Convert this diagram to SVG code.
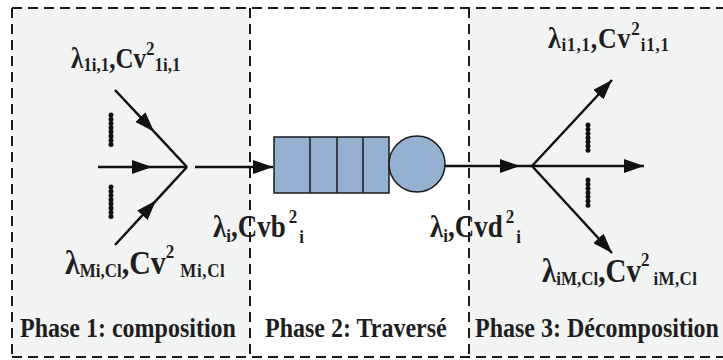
<svg xmlns="http://www.w3.org/2000/svg" width="723" height="360" viewBox="0 0 723 360">
<defs>
<style>
.frame{fill:none;stroke:#1a1a1a;stroke-width:2;stroke-dasharray:10 6}
.ln{fill:none;stroke:#111;stroke-width:2.5}
.dots{stroke:#111;stroke-width:5;stroke-linecap:round;stroke-dasharray:0.01 4.2}
.t{font-family:'Liberation Serif','Times New Roman',Times,serif;font-weight:700;fill:#1e1e1e}
.ph{font-size:24px}
.sb{font-size:17px}
.q{fill:#95b0d0;stroke:#1a1a1a;stroke-width:1.5}
</style>
<marker id="ah" viewBox="0 0 20 14" refX="20" refY="7" markerWidth="20" markerHeight="14" markerUnits="userSpaceOnUse" orient="auto">
<path d="M0,0 L20,7 L0,14 z" fill="#111"/>
</marker>
</defs>
<rect width="723" height="360" fill="#fff"/>
<g id="phase1">
<rect x="12" y="8" width="238" height="349" fill="#f2f3f3"/>
<text class="t ph" x="20" y="337" transform="translate(0,-33.7) scale(1,1.1)">Phase 1: composition</text>
</g>
<g id="phase2">
<rect x="250" y="8" width="219" height="349" fill="#fff"/>
<text class="t ph" x="265" y="337" transform="translate(0,-33.7) scale(1,1.1)">Phase 2: Traversé</text>
</g>
<g id="phase3">
<rect x="469" y="8" width="260" height="349" fill="#f2f3f3"/>
<text class="t ph" x="475" y="337" transform="translate(0,-33.7) scale(1,1.1)">Phase 3: Décomposition</text>
</g>
<g id="frame">
<path class="frame" d="M12,8 H730 M12,357 H730 M12,8 V357 M250,8 V357 M469,8 V357"/>
</g>
<g id="queue">
<rect class="q" x="274" y="137" width="115" height="56"/>
<path class="q" d="M310,137 V193 M337,137 V193 M363,137 V193"/>
<circle class="q" cx="417" cy="164" r="28"/>
</g>
<g id="connectors">
<path class="ln" d="M98,167 H152" marker-end="url(#ah)"/>
<path class="ln" d="M152,167 H187"/>
<path class="ln" d="M115,90 L154,131.7" marker-end="url(#ah)"/>
<path class="ln" d="M154,131.7 L187,167"/>
<path class="ln" d="M115,245 L156,200.6" marker-end="url(#ah)"/>
<path class="ln" d="M156,200.6 L187,167"/>
<path class="ln" d="M195,167 H273" marker-end="url(#ah)"/>
<path class="ln" d="M445,166 H520" marker-end="url(#ah)"/>
<path class="ln" d="M520,166 H532"/>
<path class="ln" d="M532,166 L612,80" marker-end="url(#ah)"/>
<path class="ln" d="M532,166 H644" marker-end="url(#ah)"/>
<path class="ln" d="M532,166 L612,253" marker-end="url(#ah)"/>
<path class="dots" d="M111,115 V145 M111,187 V217 M588,125 V153 M588,180 V208"/>
</g>
<g id="labels" class="t">
<text transform="translate(71,68) scale(1,1.15)" font-size="25">λ<tspan class="sb" dy="3">1i,1</tspan><tspan dy="-3">,Cv</tspan><tspan class="sb" dy="-11">2</tspan><tspan class="sb" dy="14">1i,1</tspan></text>
<text transform="translate(65,274) scale(1,1.15)" font-size="30">λ<tspan class="sb" dy="3">Mi,Cl</tspan><tspan dy="-3">,Cv</tspan><tspan class="sb" dy="-14">2</tspan><tspan class="sb" dx="6" dy="17" letter-spacing="0.6">Mi,Cl</tspan></text>
<text transform="translate(213,237) scale(1,1.15)" font-size="27">λ<tspan class="sb" dy="4">i</tspan><tspan dy="-4">,Cvb</tspan><tspan class="sb" dx="3" dy="-12">2</tspan><tspan class="sb" dx="2" dy="17">i</tspan></text>
<text transform="translate(430,237) scale(1,1.15)" font-size="27">λ<tspan class="sb" dy="4">i</tspan><tspan dy="-4">,Cvd</tspan><tspan class="sb" dx="3" dy="-12">2</tspan><tspan class="sb" dx="2" dy="17">i</tspan></text>
<text transform="translate(548,48) scale(1,1.15)" font-size="26" letter-spacing="0.8">λ<tspan class="sb" dy="3" font-size="18">i1,1</tspan><tspan dy="-3">,Cv</tspan><tspan class="sb" dy="-11">2</tspan><tspan class="sb" dy="14" font-size="18">i1,1</tspan></text>
<text transform="translate(542,282) scale(1,1.15)" font-size="29">λ<tspan class="sb" dy="3">iM,Cl</tspan><tspan dy="-3">,Cv</tspan><tspan class="sb" dy="-14">2</tspan><tspan class="sb" dx="4" dy="17" letter-spacing="0.4">iM,Cl</tspan></text>
</g>
</svg>
